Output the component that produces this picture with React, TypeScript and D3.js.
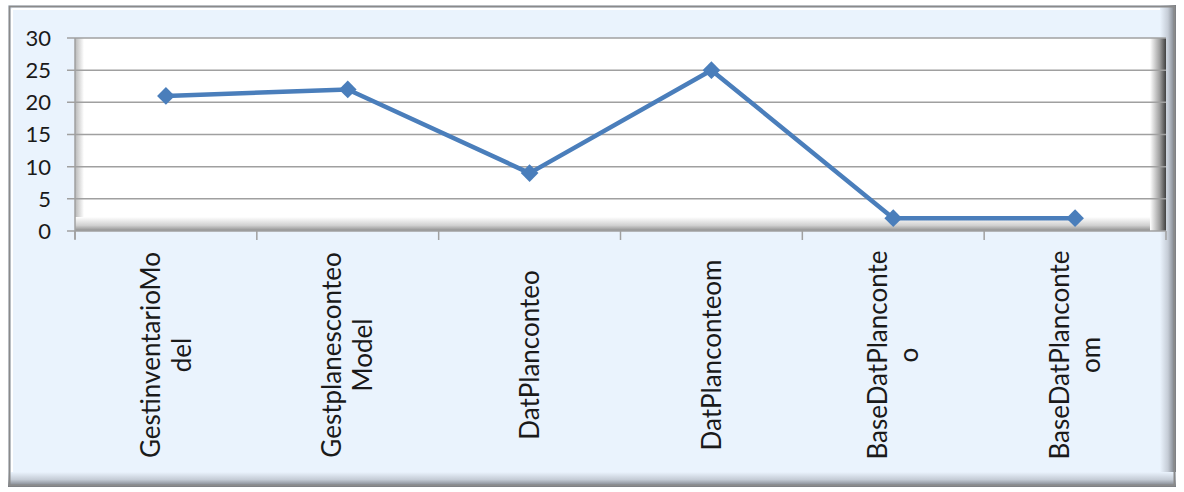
import React, { useEffect, useRef } from 'react';
import * as d3 from 'd3';

const categories = [
  'GestinventarioModel',
  'GestplanesconteoModel',
  'DatPlanconteo',
  'DatPlanconteom',
  'BaseDatPlanconteo',
  'BaseDatPlanconteom',
];
// how each category label wraps in the picture
const labelLines = [
  ['GestinventarioMo', 'del'],
  ['Gestplanesconteo', 'Model'],
  ['DatPlanconteo'],
  ['DatPlanconteom'],
  ['BaseDatPlanconte', 'o'],
  ['BaseDatPlanconte', 'om'],
];
const values = [21, 22, 9, 25, 2, 2];
const yTicks = [0, 5, 10, 15, 20, 25, 30];

const W = 1184;
const H = 492;
const FONT = 'Lato, "Open Sans", sans-serif';

const LineChart = () => {
  const svgRef = useRef(null);

  useEffect(() => {
    const svg = d3.select(svgRef.current);
    svg.selectAll('*').remove();

    const left = 75, right = 1166, top = 38, bottom = 231;
    const x = d3.scaleBand().domain(categories).range([left, right]);
    const y = d3.scaleLinear().domain([0, 30]).range([bottom, top]);

    const defs = svg.append('defs');
    const grad = (id, x1, y1, x2, y2, stops) => {
      const g = defs.append('linearGradient').attr('id', id)
        .attr('x1', x1).attr('y1', y1).attr('x2', x2).attr('y2', y2);
      stops.forEach(([o, c]) => g.append('stop').attr('offset', o).attr('stop-color', c));
    };
    grad('frameR', 0, 0, 1, 0, [[0, '#eaf3fd'], [0.5, '#c5ccd6'], [1, '#6f737a']]);
    grad('frameB', 0, 0, 0, 1, [[0, '#eaf3fd'], [0.5, '#c5ccd6'], [1, '#6f737a']]);
    grad('plotL', 0, 0, 1, 0, [[0, '#b8b8b8'], [1, '#ffffff']]);
    grad('plotB', 0, 0, 0, 1, [[0, '#ffffff'], [0.6, '#d0d0d0'], [1, '#8c8c8c']]);
    grad('plotR', 0, 0, 1, 0, [[0, '#ffffff'], [0.6, '#a0a0a0'], [1, '#404040']]);

    // outer frame
    svg.append('rect').attr('x', 8).attr('y', 5).attr('width', 1168).attr('height', 482)
      .attr('fill', '#eaf3fd');
    svg.append('rect').attr('x', 1160).attr('y', 5).attr('width', 16).attr('height', 482)
      .attr('fill', 'url(#frameR)');
    svg.append('rect').attr('x', 8).attr('y', 472).attr('width', 1168).attr('height', 15)
      .attr('fill', 'url(#frameB)');
    svg.append('rect').attr('x', 9.5).attr('y', 6.5).attr('width', 1165).attr('height', 479)
      .attr('fill', 'none').attr('stroke', '#8a8a8a').attr('stroke-width', 2);
    svg.append('line').attr('x1', 12).attr('x2', 1160).attr('y1', 9).attr('y2', 9)
      .attr('stroke', '#ffffff').attr('stroke-width', 2);
    svg.append('line').attr('x1', 12).attr('x2', 12).attr('y1', 9).attr('y2', 472)
      .attr('stroke', '#ffffff').attr('stroke-width', 2);

    // plot area with bevel
    svg.append('rect').attr('x', left).attr('y', top).attr('width', right - left).attr('height', bottom - top)
      .attr('fill', '#ffffff');
    svg.append('rect').attr('x', left).attr('y', top).attr('width', 9).attr('height', bottom - top)
      .attr('fill', 'url(#plotL)');
    svg.append('rect').attr('x', left).attr('y', bottom - 14).attr('width', right - left).attr('height', 14)
      .attr('fill', 'url(#plotB)');
    svg.append('rect').attr('x', right - 16).attr('y', top).attr('width', 16).attr('height', bottom - top)
      .attr('fill', 'url(#plotR)');

    // grid lines + y ticks
    const gy = svg.append('g');
    gy.selectAll('line').data(yTicks).enter().append('line')
      .attr('x1', 67).attr('x2', right)
      .attr('y1', d => y(d)).attr('y2', d => y(d))
      .attr('stroke', '#a0a0a0').attr('stroke-width', 1.5);
    gy.selectAll('text').data(yTicks).enter().append('text')
      .attr('x', 51).attr('y', d => y(d))
      .attr('dy', '0.36em')
      .attr('text-anchor', 'end')
      .attr('font-family', FONT).attr('font-size', 22).attr('fill', '#1a1a1a')
      .text(d => d);
    svg.append('line').attr('x1', left).attr('x2', left).attr('y1', top).attr('y2', bottom + 8)
      .attr('stroke', '#a0a0a0').attr('stroke-width', 1.5);

    // x ticks
    const xTicks = categories.map(c => x(c)).concat([right]);
    svg.append('g').selectAll('line').data(xTicks).enter().append('line')
      .attr('x1', d => d).attr('x2', d => d).attr('y1', bottom).attr('y2', bottom + 9)
      .attr('stroke', '#a0a0a0').attr('stroke-width', 1.5);

    // category labels, rotated
    const lh = 31;
    const lab = svg.append('g').selectAll('text').data(categories).enter().append('text')
      .attr('transform', d => `translate(${x(d) + x.bandwidth() / 2},355) rotate(-90)`)
      .attr('text-anchor', 'middle')
      .attr('font-family', FONT).attr('font-size', 26).attr('fill', '#1a1a1a');
    lab.each(function (d, i) {
      const lines = labelLines[i];
      d3.select(this).selectAll('tspan').data(lines).enter().append('tspan')
        .attr('x', 0)
        .attr('y', (_, j) => (j - (lines.length - 1) / 2) * lh)
        .attr('dy', '0.35em')
        .text(t => t);
    });

    // series
    const pts = categories.map((c, i) => [x(c) + x.bandwidth() / 2, y(values[i])]);
    svg.append('path').attr('d', d3.line()(pts))
      .attr('fill', 'none').attr('stroke', '#4a7ebb').attr('stroke-width', 4.5)
      .attr('stroke-linejoin', 'round');
    svg.append('g').selectAll('path').data(pts).enter().append('path')
      .attr('d', d3.symbol().type(d3.symbolDiamond2).size(200))
      .attr('transform', d => `translate(${d[0]},${d[1]})`)
      .attr('fill', '#4a7ebb');
  }, []);

  return <svg ref={svgRef} width={W} height={H} style={{ display: 'block', position: 'absolute', left: 0, top: 0 }}></svg>;
};

export default function App() {
  return <LineChart />;
}
